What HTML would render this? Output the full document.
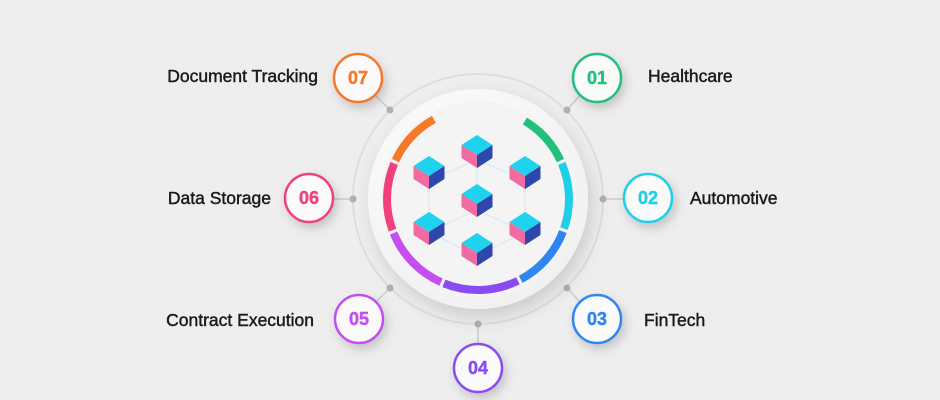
<!DOCTYPE html>
<html><head><meta charset="utf-8"><style>
html,body{margin:0;padding:0;background:#eeeeee;}
svg{display:block}
text{font-family:"Liberation Sans",sans-serif}
</style></head><body>
<svg width="940" height="400" viewBox="0 0 940 400" xmlns="http://www.w3.org/2000/svg">
<defs>
<filter id="sh" x="-30%" y="-30%" width="160%" height="160%"><feDropShadow dx="3" dy="5" stdDeviation="5" flood-color="#000" flood-opacity="0.18"/></filter>
<filter id="sh2" x="-30%" y="-30%" width="160%" height="160%"><feDropShadow dx="4" dy="8" stdDeviation="9" flood-color="#000" flood-opacity="0.15"/></filter>
<radialGradient id="bg" cx="0.4" cy="0.35" r="0.7"><stop offset="0" stop-color="#ffffff"/><stop offset="1" stop-color="#f0f0f0"/></radialGradient>
</defs>
<rect width="940" height="400" fill="#eeeeee"/>
<g stroke="#c8ccd0" stroke-width="1.5">
<line x1="353" y1="199" x2="334" y2="199"/><line x1="603" y1="199" x2="623" y2="199"/>
<line x1="390" y1="110" x2="375" y2="95"/><line x1="567" y1="110" x2="580" y2="95"/>
<line x1="390" y1="288" x2="376" y2="302"/><line x1="567" y1="288" x2="580" y2="302"/>
<line x1="478" y1="324" x2="478" y2="343"/>
</g>
<circle cx="478" cy="199" r="125" fill="none" stroke="#dedede" stroke-width="2"/>
<g fill="#aab2b8">
<circle cx="353" cy="199" r="3.5"/><circle cx="603" cy="199" r="3.5"/>
<circle cx="390" cy="110" r="3.5"/><circle cx="567" cy="110" r="3.5"/>
<circle cx="390" cy="288" r="3.5"/><circle cx="567" cy="288" r="3.5"/>
<circle cx="478" cy="324" r="3.5"/>
</g>
<circle cx="478" cy="199" r="110" fill="url(#bg)" filter="url(#sh2)"/>
<circle cx="478" cy="199" r="98" fill="#f4f4f4"/>
<g fill="none" stroke-width="8" id="arcs"></g>
<g stroke="#dde9f5" stroke-width="1.5" fill="none">
<polygon points="477,160 525,180 525,232 477,256 429,232 429,180"/>
<line x1="477" y1="184" x2="477" y2="160"/><line x1="477" y1="210" x2="429" y2="232"/><line x1="477" y1="210" x2="525" y2="232"/>
</g>
<g id="cubes"></g>
<g font-weight="bold" font-size="18" text-anchor="middle">
<g filter="url(#sh)">
<circle cx="358" cy="78" r="24" fill="#fafafa" stroke="#f47a2a" stroke-width="2.5"/>
<circle cx="597" cy="78" r="24" fill="#fafafa" stroke="#22c07c" stroke-width="2.5"/>
<circle cx="309" cy="198" r="24" fill="#fafafa" stroke="#f0407f" stroke-width="2.5"/>
<circle cx="648" cy="198" r="24" fill="#fafafa" stroke="#1fcfe8" stroke-width="2.5"/>
<circle cx="359" cy="319" r="24" fill="#fafafa" stroke="#c44ef0" stroke-width="2.5"/>
<circle cx="597" cy="319" r="24" fill="#fafafa" stroke="#2f86f0" stroke-width="2.5"/>
<circle cx="478" cy="368" r="24" fill="#fafafa" stroke="#8a4bf2" stroke-width="2.5"/>
</g>
<text x="358" y="84" fill="#f47a2a" stroke="#f47a2a" stroke-width="0.4">07</text>
<text x="597" y="84" fill="#22c07c" stroke="#22c07c" stroke-width="0.4">01</text>
<text x="309" y="204" fill="#f0407f" stroke="#f0407f" stroke-width="0.4">06</text>
<text x="648" y="204" fill="#1fcfe8" stroke="#1fcfe8" stroke-width="0.4">02</text>
<text x="359" y="325" fill="#c44ef0" stroke="#c44ef0" stroke-width="0.4">05</text>
<text x="597" y="325" fill="#2f86f0" stroke="#2f86f0" stroke-width="0.4">03</text>
<text x="478" y="374" fill="#8a4bf2" stroke="#8a4bf2" stroke-width="0.4">04</text>
</g>
<g font-size="17.5" fill="#1a1a1a" stroke="#1a1a1a" stroke-width="0.45">
<text x="318" y="82" text-anchor="end">Document Tracking</text>
<text x="648" y="82">Healthcare</text>
<text x="271" y="204" text-anchor="end">Data Storage</text>
<text x="690" y="204">Automotive</text>
<text x="314" y="326" text-anchor="end">Contract Execution</text>
<text x="644" y="326">FinTech</text>
</g>
<script>
(function(){
var ns="http://www.w3.org/2000/svg",cx=478,cy=199,r=91;
var arcs=[[241,205,"#f47a2a"],[203,160,"#f0407f"],[158,114,"#c44ef0"],[112,64,"#8a4bf2"],[62,21,"#2f86f0"],[19,-23,"#1fcfe8"],[-25,-59,"#22c07c"]];
var g=document.getElementById("arcs");
arcs.forEach(function(a){var s=a[1]*Math.PI/180,e=a[0]*Math.PI/180;
var p=document.createElementNS(ns,"path");
p.setAttribute("d","M"+(cx+r*Math.cos(s))+","+(cy+r*Math.sin(s))+" A"+r+","+r+" 0 0 1 "+(cx+r*Math.cos(e))+","+(cy+r*Math.sin(e)));
p.setAttribute("stroke",a[2]);g.appendChild(p);});
var cg=document.getElementById("cubes");
[[477,135],[429,156],[525,156],[477,184],[429,212],[525,212],[477,233]].forEach(function(c){
var x=c[0],y=c[1],w=15.5,h=10,v=13;
function poly(pts,f){var p=document.createElementNS(ns,"polygon");p.setAttribute("points",pts);p.setAttribute("fill",f);cg.appendChild(p);}
poly(x+","+y+" "+(x+w)+","+(y+h)+" "+x+","+(y+2*h)+" "+(x-w)+","+(y+h),"#1fd3ee");
poly((x-w)+","+(y+h)+" "+x+","+(y+2*h)+" "+x+","+(y+2*h+v)+" "+(x-w)+","+(y+h+v),"#f06ba0");
poly((x+w)+","+(y+h)+" "+x+","+(y+2*h)+" "+x+","+(y+2*h+v)+" "+(x+w)+","+(y+h+v),"#2e47ad");
});
})();
</script>
</svg>
</body></html>
